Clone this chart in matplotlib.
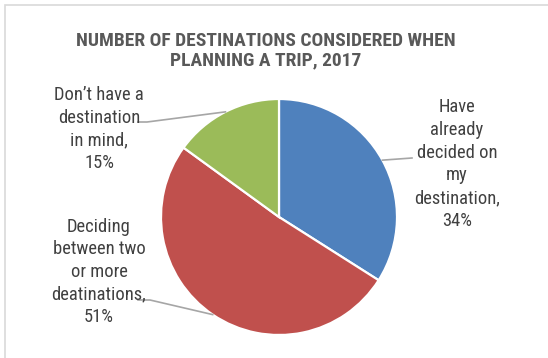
import numpy as np
import matplotlib.pyplot as plt

# Survey shares of how many destinations travellers weigh
categories = ["Have\nalready\ndecided on\nmy\ndestination,",
              "Deciding\nbetween two\nor more\ndeatinations,",
              "Don\u2019t have a\ndestination\nin mind,"]
shares = [34, 51, 15]
colors = ["#4F81BD", "#C0504D", "#9BBB59"]
title = "NUMBER OF DESTINATIONS CONSIDERED WHEN\nPLANNING A TRIP, 2017"

W, H = 548, 358
FONT = ["Roboto Condensed", "Liberation Sans", "DejaVu Sans"]
TXT = "#404040"
LEAD = "#A6A6A6"

fig = plt.figure(figsize=(W / 100, H / 100), dpi=100)
ax = fig.add_axes([0, 0, 1, 1])

cx, cy, r = 279, H - 217, 118
wedges, _ = ax.pie(shares, colors=colors, startangle=90, counterclock=False,
                   center=(cx, cy), radius=r, frame=True,
                   wedgeprops=dict(edgecolor="white", linewidth=1.6))
ax.set_xlim(0, W)
ax.set_ylim(0, H)
ax.axis("off")

# chart-area frame
ax.plot([4.5, 4.5, W + 5], [-5, H - 4.5, H - 4.5], color="#D9D9D9", lw=1.2,
        solid_joinstyle="miter", clip_on=False)

ax.text(266, H - 51, title, ha="center", va="center", fontsize=14,
        fontweight="bold", color="#595959", family=FONT, linespacing=1.1)

# label text positions (x, y from top) and leader elbow points
label_pos = [(457, 164), (99, 272), (99, 129)]
elbows = [[(412, 158)], [(138, 300), (150, 300)], [(138, 122), (147, 122)]]

for w, val, cat, (lx, ly), elb in zip(wedges, shares, categories, label_pos, elbows):
    ax.text(lx, H - ly, f"{cat}\n{val}%", ha="center", va="center",
            fontsize=13.3, color=TXT, family=FONT, linespacing=1.33)
    mid = np.deg2rad((w.theta1 + w.theta2) / 2)
    ex, ey = cx + r * np.cos(mid), cy + r * np.sin(mid)
    pts = [(ex, ey)] + [(x, H - y) for x, y in reversed(elb)]
    xs, ys = zip(*pts)
    ax.plot(xs, ys, color=LEAD, lw=1.2)

fig.savefig("out.png", dpi=100)
